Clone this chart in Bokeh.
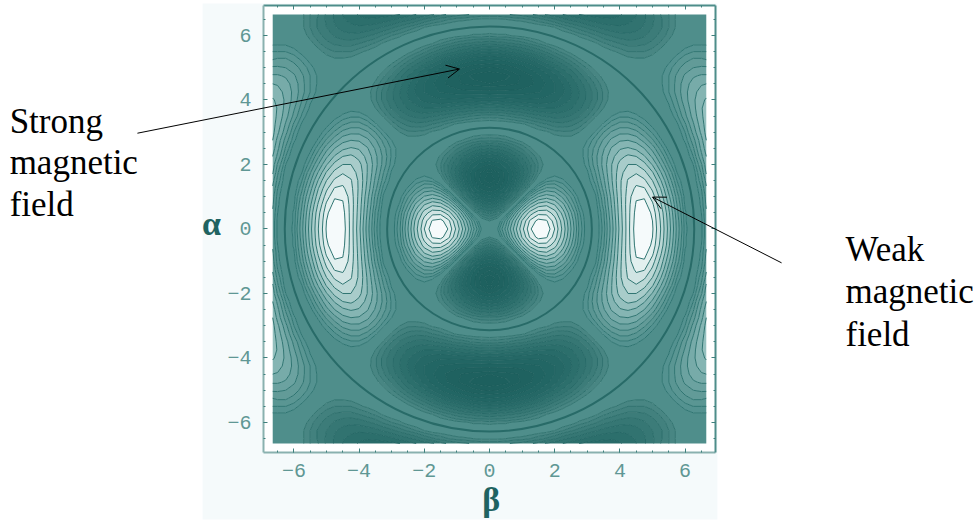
from bokeh.plotting import figure
from bokeh.embed import file_html
from bokeh.resources import INLINE
from bokeh.models import LinearAxis, FixedTicker, Range1d, Label, Arrow, OpenHead
import numpy as np

# grid positions (|beta| and |alpha|)
AXIS_VALUES = [0, .25, .5, .75, 1, 1.25, 1.5, 1.75, 2, 2.25, 2.5, 2.75, 3, 3.25, 3.5, 3.75, 4, 4.25,
               4.5, 4.75, 5, 5.25, 5.5, 5.75, 6, 6.25, 6.5, 6.65]
# field strength, one row per |alpha|, for |beta| > |alpha|
# (the other half of the picture is the same with the sign reversed)
FIELD_ROWS = [
 [.06,.23,.47,.71,.90,.99,.97,.83,.61,.36,.14,.02,.01,.12,.32,.57,.80,.96,1.0,.92,.74,.50,.26,.08,.00,.05,.13],
 [.17,.40,.65,.85,.94,.92,.79,.58,.34,.13,.02,.01,.13,.33,.58,.80,.95,.99,.91,.73,.49,.25,.07,.00,.05,.13],
 [.24,.49,.69,.80,.80,.69,.50,.29,.11,.01,.02,.14,.35,.59,.80,.94,.98,.89,.71,.47,.23,.07,.00,.06,.14],
 [.25,.46,.59,.62,.54,.39,.21,.07,.00,.03,.17,.37,.60,.80,.92,.94,.85,.66,.43,.21,.05,.00,.07,.16],
 [.22,.36,.41,.37,.26,.14,.04,.00,.05,.19,.39,.61,.79,.90,.90,.79,.60,.38,.18,.04,.00,.08,.17],
 [.15,.23,.22,.15,.07,.01,.01,.08,.23,.42,.62,.77,.85,.84,.72,.54,.32,.14,.02,.01,.10,.20],
 [.08,.10,.07,.02,.00,.03,.12,.26,.44,.62,.75,.80,.76,.64,.46,.26,.10,.01,.02,.13,.23],
 [.03,.02,.00,.01,.05,.15,.29,.45,.60,.70,.73,.67,.55,.37,.20,.06,.00,.03,.16,.29],
 [.00,.00,.02,.08,.18,.31,.45,.57,.64,.64,.57,.44,.28,.13,.03,.00,.06,.20,.32],
 [.01,.03,.09,.19,.30,.42,.51,.56,.54,.46,.34,.20,.08,.01,.01,.10,.26,.36],
 [.03,.09,.17,.27,.37,.44,.46,.43,.36,.25,.13,.04,.00,.03,.14,.30,.40],
 [.06,.13,.22,.30,.35,.36,.33,.25,.16,.07,.01,.01,.07,.18,.33,.45],
 [.07,.15,.22,.26,.26,.23,.16,.09,.03,.00,.02,.10,.23,.38,.48],
 [.07,.13,.17,.17,.14,.09,.04,.01,.01,.05,.14,.27,.41,.49],
 [.06,.09,.09,.07,.04,.01,.00,.02,.09,.19,.31,.43,.50],
 [.03,.04,.03,.01,.00,.01,.05,.12,.22,.33,.44,.50],
 [.01,.01,.00,.00,.03,.07,.15,.25,.34,.43,.46],
 [.00,.00,.01,.04,.10,.17,.26,.33,.40,.42],
 [.00,.02,.05,.10,.17,.25,.31,.35,.36],
 [.02,.05,.10,.16,.22,.27,.29,.29],
 [.03,.08,.13,.18,.21,.22,.22],
 [.04,.09,.13,.16,.16,.15],
 [.04,.08,.10,.10,.10],
 [.03,.05,.05,.05],
 [.02,.02,.02],
 [.01,.00],
 [.00],
]
LEVELS = [-1.01, -.96, -.91, -.83, -.74, -.64, -.54, -.45, -.36, -.28, -.21, -.15, -.10, -.06,
          .06, .10, .15, .21, .28, .36, .45, .54, .64, .74, .83, .91, 1.01]
NODE_RADII = [3.14, 6.28]
TICKS = [-6, -4, -2, 0, 2, 4, 6]
MINOR_TICKS = [-6.5, -6, -5.5, -5, -4.5, -4, -3.5, -3, -2.5, -2, -1.5, -1, -.5, 0, .5, 1, 1.5, 2, 2.5, 3, 3.5, 4, 4.5, 5, 5.5, 6, 6.5]
LEFT_NOTE = ["Strong", "magnetic", "field"]
RIGHT_NOTE = ["Weak", "magnetic", "field"]

BAND_COLORS = ["#1D605E", "#1E615F", "#1F6260", "#206462", "#226664", "#256866", "#286B69", "#2C6F6C",
               "#317370", "#367774", "#3C7C79", "#42817E", "#488683", "#4F8E8B",
               "#549290", "#5A9693", "#629B98", "#6BA2A0", "#77ABA9", "#85B5B3", "#95C0BE", "#A8CCCA",
               "#BBD8D6", "#D0E4E3", "#E2F0EF", "#F5FAFB"]
LINE_COLORS = ["#1B5D5B", "#1B5D5B", "#1B5D5B", "#1C5E5C", "#1D605E", "#1F6260", "#216462", "#236664",
               "#256866", "#276A68", "#2A6D6A", "#2C6F6C", "#2E716E", "#317470"] + ["#2F7572"] * 13

# assemble the full field
n = len(AXIS_VALUES)
quad = np.zeros((n, n))
for i, row in enumerate(FIELD_ROWS):
    for k, v in enumerate(row):
        quad[i, i + 1 + k] = v
        quad[i + 1 + k, i] = -v
axis_vals = np.array(AXIS_VALUES)
xs = np.concatenate([-axis_vals[:0:-1], axis_vals])
idx = np.abs(np.arange(-(n - 1), n))
field = quad[np.ix_(idx, idx)]

p = figure(width=979, height=521,
           x_range=Range1d(-15.0, 15.031), y_range=Range1d(-9.07, 7.085),
           x_axis_type=None, y_axis_type=None, toolbar_location=None, output_backend="svg",
           min_border=0, background_fill_color="white", border_fill_color="white", outline_line_color=None)

p.quad(left=[-8.80], right=[6.99], top=[6.99], bottom=[-9.01], fill_color="#F5FAFB", line_color=None)
p.quad(left=[-6.93], right=[6.93], top=[6.93], bottom=[-6.93], fill_color="white", line_color=None)

p.contour(xs, xs, field, levels=LEVELS, fill_color=BAND_COLORS, line_color=LINE_COLORS, line_width=1)
p.ellipse(x=[0, 0], y=[0, 0], width=[2 * r for r in NODE_RADII], height=[2 * r for r in NODE_RADII],
          fill_color=None, line_color="#286B68", line_width=2)

ticker = FixedTicker(ticks=TICKS, minor_ticks=MINOR_TICKS)
def make_axis(labels, color, loc):
    ax = LinearAxis(ticker=ticker, major_tick_in=4, major_tick_out=0, minor_tick_in=2, minor_tick_out=0,
                    axis_line_color=color, axis_line_width=2, major_tick_line_color="#3F807D",
                    minor_tick_line_color="#3F807D", major_label_text_color="#5F9794",
                    major_label_text_font="Liberation Mono", major_label_text_font_size="20px",
                    bounds=(-6.93, 6.93), fixed_location=loc)
    if labels:
        ax.major_label_standoff = 12
    else:
        ax.major_label_overrides = {t: "" for t in TICKS}
        ax.major_label_standoff = 0
    return ax
p.add_layout(make_axis(True, "#8AB1AF", -6.93), "left")
p.add_layout(make_axis(True, "#8AB1AF", -6.93), "below")
p.add_layout(make_axis(False, "#4E8D8A", 6.93), "above")
p.add_layout(make_axis(False, "#4E8D8A", 6.93), "right")

for txt, b, a in [("α", -8.82, -0.40), ("β", -0.22, -8.97)]:
    p.add_layout(Label(x=b, y=a, text=txt, text_font="Liberation Serif", text_font_size="34px",
                       text_color="#1F6361", text_font_style="bold"))

for txt, a in zip(LEFT_NOTE, [2.74, 1.46, 0.16]):
    p.add_layout(Label(x=-14.72, y=a, text=txt, text_font="Liberation Serif", text_font_size="35px", text_color="black"))
for txt, a in zip(RIGHT_NOTE, [-1.25, -2.55, -3.87]):
    p.add_layout(Label(x=10.92, y=a, text=txt, text_font="Liberation Serif", text_font_size="35px", text_color="black"))

p.add_layout(Arrow(x_start=-10.8, y_start=2.97, x_end=-0.92, y_end=4.96, line_color="black", line_width=1,
                   end=OpenHead(size=13, line_width=1, line_color="black")))
p.add_layout(Arrow(x_start=8.96, y_start=-1.05, x_end=5.0, y_end=0.99, line_color="black", line_width=1,
                   end=OpenHead(size=13, line_width=1, line_color="black")))

open("out.html", "w").write(file_html(p, INLINE))
